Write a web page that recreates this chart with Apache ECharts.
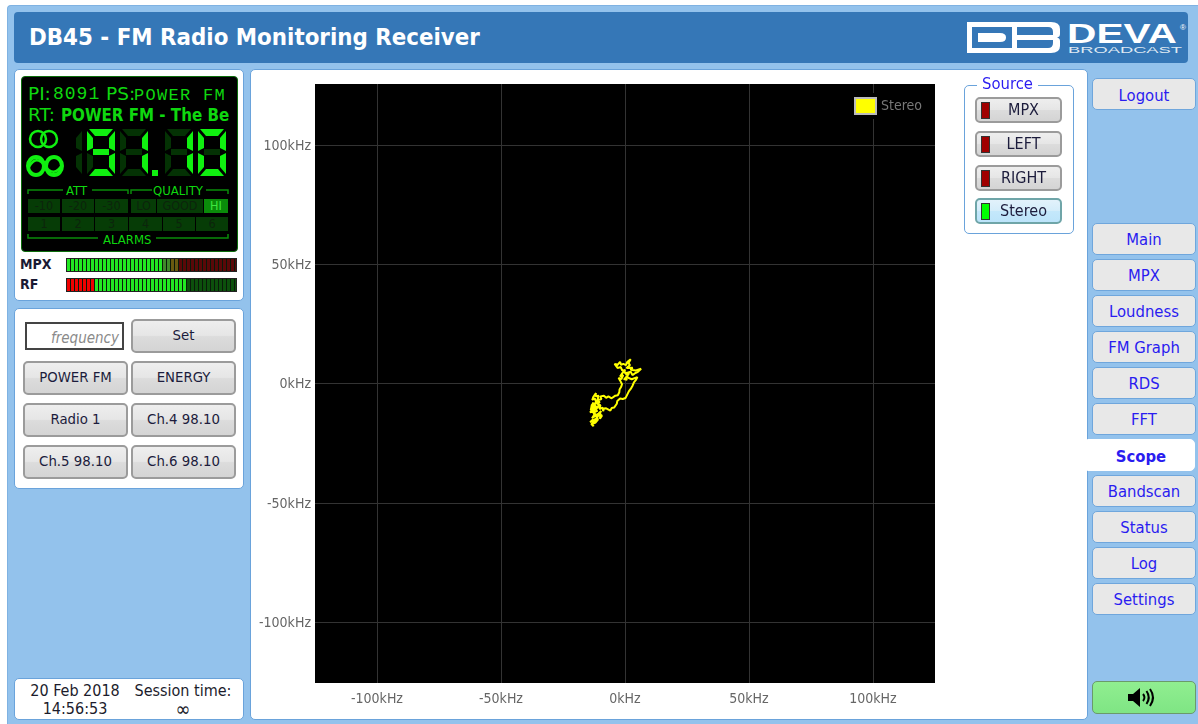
<!DOCTYPE html>
<html>
<head>
<meta charset="utf-8">
<title>DB45 - Scope</title>
<script src="https://cdn.jsdelivr.net/npm/echarts@6/dist/echarts.min.js"></script>
<style>
  html,body{margin:0;padding:0;width:1198px;height:724px;overflow:hidden;background:#fff;
    font-family:"DejaVu Sans Condensed","DejaVu Sans",sans-serif;}
  .abs,.btn,.nav,.panel{position:absolute;box-sizing:border-box;}
  #page{left:7px;top:5px;width:1191px;height:719px;background:#93c2ec;border-radius:4px 0 0 0;border-top:1px solid #7fb2e2;border-left:1px solid #7fb2e2;}
  #header{left:14px;top:12px;width:1174px;height:51px;background:#3577b7;border-radius:4px;color:#fff;font-weight:bold;font-size:23.8px;line-height:51px;padding-left:15px;}
  .panel{background:#fff;border:1px solid #6aa3db;border-radius:5px;}
  .btn{background:linear-gradient(#eeeeee 0%,#e6e6e6 48%,#dcdcdc 52%,#d4d4d4 100%);border:2px solid #9b9b9b;border-radius:5px;color:#1c1c3c;text-align:center;font-size:14.8px;}
  .btn.on{background:linear-gradient(#e2f2fb 0%,#d4edfa 48%,#c4e8fb 52%,#bce4fa 100%);border-color:#6fa5a8;}
  .led{position:absolute;left:4px;top:3px;width:7px;height:15px;border:1px solid #333;}
  .nav{left:1092px;width:104px;height:32px;background:#e8e8e8;border:1px solid #6fa6dc;border-radius:5px;color:#2a1cf0;text-align:center;font-size:16.5px;line-height:31px;}
  .nav.cur{left:1087px;width:108px;background:#fff;border-color:#fff;border-radius:0 5px 5px 0;font-weight:bold;}
  .lcd{position:absolute;white-space:pre;color:#0fd80f;}
  .cell{position:absolute;background:#063c06;color:#0c240c;text-align:center;font-size:12.5px;line-height:14px;height:14px;}
  .cell.hi{background:#0a8c0a;color:#3fe83f;}
  .meter{position:absolute;left:66px;width:171px;height:14px;border:1px solid #222;box-sizing:border-box;background:#0a1a0a;}
  .meter div{position:absolute;top:0;height:12px;background-image:repeating-linear-gradient(90deg,var(--c) 0,var(--c) 3px,#0a1a0a 3px,#0a1a0a 4px);}
</style>
</head>
<body>
<div id="page" class="abs"></div>
<div id="header" class="abs">DB45 - FM Radio Monitoring Receiver</div>
<svg class="abs" style="left:960px;top:15px" width="228" height="45">
  <path fill="#fff" d="M7 7H91Q100 7 100 14V19Q100 22 97 22.500Q100 23 100 26V31Q100 38 91 38H7Z"/>
  <path fill="#3577b7" d="M12 12H52V33H12Z"/>
  <path fill="#fff" d="M18 18H40Q46 18 46 22.500Q46 27 40 27H18Z"/>
  <path fill="#3577b7" d="M57 12H88Q93 12 93 17V20H57ZM57 25H93V28Q93 33 88 33H57Z"/>
  <text x="107" y="28" font-family="Liberation Sans" font-weight="bold" font-size="27" fill="#fff" textLength="110" lengthAdjust="spacingAndGlyphs">DEVA</text>
  <text x="220" y="15" font-family="Liberation Sans" font-size="8" fill="#fff">®</text>
  <text x="108" y="38" font-family="Liberation Sans" font-size="8.500" fill="#dfe9f3" textLength="114" lengthAdjust="spacingAndGlyphs">BROADCAST</text>
</svg>

<div class="panel" style="left:14px;top:69px;width:230px;height:232px"></div>
<div class="abs" id="lcd" style="left:21px;top:76px;width:217px;height:176px;background:#000;border:1px solid #0c6e0c;border-radius:4px;box-sizing:border-box;overflow:hidden"></div>
<div class="abs" style="left:20px;top:256px;font-weight:bold;font-size:14px;color:#1a1a33">MPX</div>
<div class="abs" style="left:20px;top:276px;font-weight:bold;font-size:14px;color:#1a1a33">RF</div>
<div class="meter" style="top:258px" id="mMpx"></div>
<div class="meter" style="top:278px" id="mRf"></div>

<div class="panel" style="left:14px;top:308px;width:230px;height:181px"></div>
<div class="abs" style="left:25px;top:322px;width:99px;height:28px;background:#fff;border:2px solid #444;box-sizing:border-box;color:#8a8a8a;font-style:italic;font-size:15px;text-align:right;padding-right:3px;line-height:28px">frequency</div>
<div id="presets"></div>

<div class="panel" style="left:14px;top:678px;width:230px;height:42px;color:#1c1c2c;font-size:16px;line-height:18px;text-align:center">
  <div class="abs" style="left:6px;top:3px;width:108px">20 Feb 2018<br>14:56:53</div>
  <div class="abs" style="left:114px;top:3px;width:108px">Session time:<br><span style="font-size:20px">∞</span></div>
</div>

<div class="panel" style="left:250px;top:69px;width:838px;height:651px;border-radius:5px"></div>
<div id="scope" class="abs" style="left:250px;top:69px;width:837px;height:651px"></div>

<div class="abs" style="left:964px;top:85px;width:110px;height:149px;border:1px solid #6aa3db;border-radius:5px;background:#fff"></div>
<div class="abs" style="left:977px;top:75px;padding:0 5px;background:#fff;color:#2a1cf0;font-size:16.5px;line-height:18px">Source</div>
<div id="sources"></div>
<div id="navs"></div>
<div class="abs" style="left:1092px;top:681px;width:104px;height:33px;background:linear-gradient(#90ee90,#7fe584);border:1px solid #6a9a6a;border-radius:5px;box-sizing:border-box"></div>
<svg class="abs" style="left:1125px;top:686px" width="40" height="24">
  <path d="M3 8H8L15 2V21L8 15H3Z" fill="#000"/>
  <path d="M18 8Q21 11.500 18 15M21.500 5Q26 11.500 21.500 18M25 3Q31 11.500 25 20" fill="none" stroke="#000" stroke-width="2"/>
</svg>

<script>
// trace, [kHz, kHz]
var tracePoints = [[0.7,2.8],[2.7,1.9],[5.0,2.8],[4.4,1.6],[3.6,0.6],[3.1,-0.7],[2.3,-2.2],[1.6,-3.1],[1.9,-3.8],[0.7,-5.0],[0.2,-6.0],[-0.9,-6.4],[-2.0,-6.2],[-3.1,-7.2],[-3.3,-8.4],[-4.0,-9.2],[-4.4,-10.0],[-5.4,-10.2],[-5.9,-11.3],[-6.6,-11.1],[-7.6,-10.3],[-8.5,-10.4],[-8.8,-11.5],[-9.3,-11.7],[-9.0,-10.0],[-10.3,-10.6],[-9.9,-9.0],[-11.0,-8.6],[-10.2,-7.6],[-11.4,-7.2],[-10.6,-9.4],[-12.0,-11.1],[-11.2,-9.5],[-13.0,-10.0],[-12.0,-8.3],[-13.4,-8.9],[-13.8,-11.1],[-12.2,-10.3],[-12.8,-12.2],[-11.0,-11.3],[-14.1,-12.0],[-13.2,-11.0],[-12.2,-13.4],[-10.8,-12.6],[-13.3,-14.5],[-12.4,-13.0],[-11.2,-13.9],[-9.9,-12.4],[-10.1,-14.7],[-9.3,-13.4],[-10.6,-12.5],[-9.6,-11.4],[-11.7,-15.0],[-12.8,-15.9],[-11.6,-14.6],[-14.1,-16.1],[-12.9,-15.0],[-12.8,-17.8],[-13.6,-16.8],[-12.0,-16.4],[-10.9,-15.0],[-12.2,-12.5],[-13.3,-10.6],[-12.0,-8.9],[-13.3,-8.2],[-12.8,-7.5],[-11.4,-8.3],[-12.2,-6.1],[-13.2,-6.8],[-12.8,-5.6],[-11.7,-3.9],[-11.9,-5.2],[-10.6,-5.0],[-11.2,-7.0],[-9.5,-6.4],[-9.9,-5.3],[-8.5,-5.0],[-7.6,-5.9],[-6.7,-5.3],[-5.4,-6.1],[-4.7,-5.3],[-3.9,-5.0],[-2.9,-4.8],[-2.3,-3.6],[-2.2,-2.4],[-1.6,-1.4],[-1.2,-0.2],[-0.7,0.6],[-2.0,1.4],[-2.6,2.5],[-1.5,1.9],[-0.7,3.6],[-2.0,3.0],[-1.2,4.3],[-2.0,5.0],[-0.7,4.5],[0.1,5.8],[-1.1,5.5],[-1.7,7.0],[-3.0,6.6],[-4.2,8.3],[-3.1,8.1],[-3.6,7.2],[-2.0,9.2],[-1.6,7.9],[-0.7,8.3],[0.4,7.8],[0.9,9.1],[2.3,10.3],[1.4,8.7],[2.0,7.8],[0.6,6.6],[3.1,6.7],[2.2,5.9],[4.4,5.6],[6.5,6.3],[5.2,5.0],[4.2,4.5],[3.0,3.6],[2.3,5.0],[1.5,5.3],[0.7,4.5],[1.8,3.9],[-0.4,5.0],[1.2,3.3],[0,2.4],[0.9,1.7],[-0.6,2.0]];
var tickValues = [-100,-50,0,50,100];
var xMin = -125, xMax = 125;
var yMin = -125.5, yMax = 125.7;
var seriesName = 'Stereo';

var presetNames = ['Set','POWER FM','ENERGY','Radio 1','Ch.4 98.10','Ch.5 98.10','Ch.6 98.10'];
var sourceNames = ['MPX','LEFT','RIGHT','Stereo'];
var navNames = ['Logout','Main','MPX','Loudness','FM Graph','RDS','FFT','Scope','Bandscan','Status','Log','Settings'];
var navTops = [78,223,259,295,331,367,403,439,475,511,547,583];

function make(parent, cls, css, text) {
  var d = document.createElement('div');
  d.className = cls;
  d.style.cssText = css;
  if (text) d.textContent = text;
  parent.appendChild(d);
  return d;
}

// preset buttons
var presets = document.getElementById('presets');
presetNames.forEach(function (n, i) {
  var row = Math.floor((i + 1) / 2), left = (i + 1) % 2 ? 131 : 23;
  make(presets, 'btn', 'left:' + left + 'px;top:' + (319 + row * 42) + 'px;width:105px;height:34px;line-height:28px;', n);
});

// source buttons
var sources = document.getElementById('sources');
var sourceTops = [97,131,165,198];
sourceNames.forEach(function (n, i) {
  var on = n === seriesName;
  var b = make(sources, on ? 'btn on' : 'btn', 'left:975px;top:' + sourceTops[i] + 'px;width:87px;height:26px;line-height:22px;font-size:16px;padding-left:10px;', n);
  make(b, 'led', 'background:' + (on ? '#0f0' : '#a00000'));
});

// right nav
var navs = document.getElementById('navs');
navNames.forEach(function (n, i) {
  var lh = (n === 'Logout' || n === 'Scope') ? 'line-height:33px;' : '';
  make(navs, n === 'Scope' ? 'nav cur' : 'nav', 'top:' + navTops[i] + 'px;' + lh, n);
});

// LCD panel
var lcd = document.getElementById('lcd');
function lcdText(x, y, txt, css) { make(lcd, 'lcd', 'left:' + (x - 22) + 'px;top:' + (y - 77) + 'px;' + css, txt); }
var sans = 'font-family:DejaVu Sans;font-size:18.500px;line-height:20px;';
lcdText(28, 84, 'PI:', sans);
lcdText(53, 84, '8091', 'font-family:Liberation Mono;font-size:18px;line-height:21px;letter-spacing:1px;');
lcdText(106, 84, 'PS:', sans);
lcdText(134, 85, 'POWER FM', 'font-family:Liberation Mono;font-size:17px;line-height:21px;letter-spacing:1.300px;');
lcdText(28, 105, 'RT:', sans);
lcdText(61, 105, 'POWER FM - The Be', 'font-weight:bold;font-size:16.800px;line-height:20px;');
lcdText(66, 184, 'ATT', 'font-size:13px;line-height:14px;');
lcdText(153, 184, 'QUALITY', 'font-size:13px;line-height:14px;');
lcdText(103, 233, 'ALARMS', 'font-size:13px;line-height:14px;');

var row1 = [['-10',28,32],['-20',62,32],['-30',95,33],['LO',131,25],['GOOD',157,46],['HI',204,24]];
row1.forEach(function (c) {
  make(lcd, c[0] === 'HI' ? 'cell hi' : 'cell', 'left:' + (c[1] - 22) + 'px;top:122px;width:' + c[2] + 'px;', c[0]);
});
var row2 = [['1',28,32],['2',62,32],['3',95,33],['4',129,33],['5',163,32],['6',196,32]];
row2.forEach(function (c) {
  make(lcd, 'cell', 'left:' + (c[1] - 22) + 'px;top:140px;width:' + c[2] + 'px;', c[0]);
});

// seven segment read-out and icons, drawn over the LCD
var digits = [{x:87,d:'9'},{x:120,d:'1'},{x:165,d:'1'},{x:198,d:'0'}];
var segOn = {'0':'abcdef','1':'bc','9':'abcdfg'};
function seg(x, y, name, on) {
  var w = 28, h = 47, t = 7, m = 23;
  var p = {
    a:[[2,0],[w-2,0],[w-t-1,t],[t+1,t]],
    d:[[t+1,h-t],[w-t-1,h-t],[w-2,h],[2,h]],
    g:[[t-1,m-3],[w-t+1,m-3],[w-t+1,m+3],[t-1,m+3]],
    f:[[0,2],[t-1,t+2],[t-1,m-4],[0,m-1]],
    e:[[0,m+1],[t-1,m+4],[t-1,h-t-2],[0,h-2]],
    b:[[w,2],[w,m-1],[w-t+1,m-4],[w-t+1,t+2]],
    c:[[w,m+1],[w,h-2],[w-t+1,h-t-2],[w-t+1,m+4]]
  }[name];
  var pts = p.map(function (q) { return (x + q[0]) + ',' + (y + q[1]); }).join(' ');
  return '<polygon points="' + pts + '" fill="' + (on ? '#10f010' : '#043204') + '"/>';
}
var svg = '';
digits.forEach(function (o) {
  'abcdefg'.split('').forEach(function (s) { svg += seg(o.x, 129, s, segOn[o.d].indexOf(s) >= 0); });
});
// unlit hundreds digit
svg += seg(54, 129, 'b', false) + seg(54, 129, 'c', false);
svg += '<rect x="152" y="170" width="6" height="6" fill="#10f010"/>';
// stereo rings
svg += '<circle cx="38" cy="139" r="8" fill="none" stroke="#10f010" stroke-width="2.500"/><circle cx="49" cy="139" r="8" fill="none" stroke="#10f010" stroke-width="2.500"/>';
// RDS mark
svg += '<ellipse cx="36" cy="166" rx="8" ry="9" fill="none" stroke="#10f010" stroke-width="4"/><ellipse cx="54" cy="166" rx="8" ry="9" fill="none" stroke="#10f010" stroke-width="4"/><path d="M29 167Q36 154 45 166T62 165" fill="none" stroke="#10f010" stroke-width="2.500"/>';
// brackets
var br = '#0a8c0a';
svg += '<path d="M28 194V190H63M92 190H128V194M131 194V190H152M206 190H228V194M28 234V238H98M156 238H228V234" fill="none" stroke="' + br + '" stroke-width="1.500"/>';
var layer = document.createElementNS('http://www.w3.org/2000/svg', 'svg');
layer.setAttribute('width', 217);
layer.setAttribute('height', 176);
layer.setAttribute('viewBox', '22 77 217 176');
layer.style.cssText = 'position:absolute;left:0;top:0';
layer.innerHTML = svg;
lcd.appendChild(layer);

// level meters
function meter(id, parts) {
  var m = document.getElementById(id);
  parts.forEach(function (p) {
    make(m, '', 'left:' + p[0] + 'px;width:' + p[1] + 'px;--c:' + p[2]);
  });
}
meter('mMpx', [[0,96,'#22e822'],[96,8,'#3f8a2a'],[104,8,'#6a5a10'],[112,57,'#5a0808']]);
meter('mRf', [[0,28,'#f00000'],[28,92,'#22e822'],[120,49,'#0c500c']]);

// scope
var chart = echarts.init(document.getElementById('scope'));
var axisFont = { color: '#666', fontSize: 14, fontFamily: 'DejaVu Sans Condensed, DejaVu Sans, sans-serif' };
function kHz(v) { return v + 'kHz'; }
chart.setOption({
  animation: false,
  grid: { left: 65, top: 15, width: 620, height: 599, show: true, backgroundColor: '#000', borderWidth: 0 },
  legend: {
    left: 600, top: 24, padding: [4, 4],
    backgroundColor: '#000',
    itemWidth: 21, itemHeight: 16, itemGap: 0,
    textStyle: { color: '#777', fontSize: 14, fontFamily: axisFont.fontFamily },
    data: [{ name: seriesName, icon: 'rect', itemStyle: { color: '#ff0', borderColor: '#bbb', borderWidth: 2 } }]
  },
  xAxis: {
    type: 'value', min: xMin, max: xMax,
    axisLine: { show: false },
    axisTick: { show: false, customValues: tickValues },
    axisLabel: Object.assign({ customValues: tickValues, formatter: kHz, margin: 9 }, axisFont),
    splitLine: { show: true, lineStyle: { color: '#333', width: 1 } }
  },
  yAxis: {
    type: 'value', min: yMin, max: yMax,
    axisLine: { show: false },
    axisTick: { show: false, customValues: tickValues },
    // line box of 2px hung from the tick, drops the text about a pixel
    axisLabel: Object.assign({ customValues: tickValues, formatter: kHz, margin: 4, verticalAlign: 'top', lineHeight: 2 }, axisFont),
    splitLine: { show: true, lineStyle: { color: '#333', width: 1 } }
  },
  series: [{
    name: seriesName, type: 'line', data: tracePoints,
    showSymbol: false, smooth: false,
    lineStyle: { color: '#ff0', width: 2 },
    itemStyle: { color: '#ff0' }
  }]
});
</script>
</body>
</html>
